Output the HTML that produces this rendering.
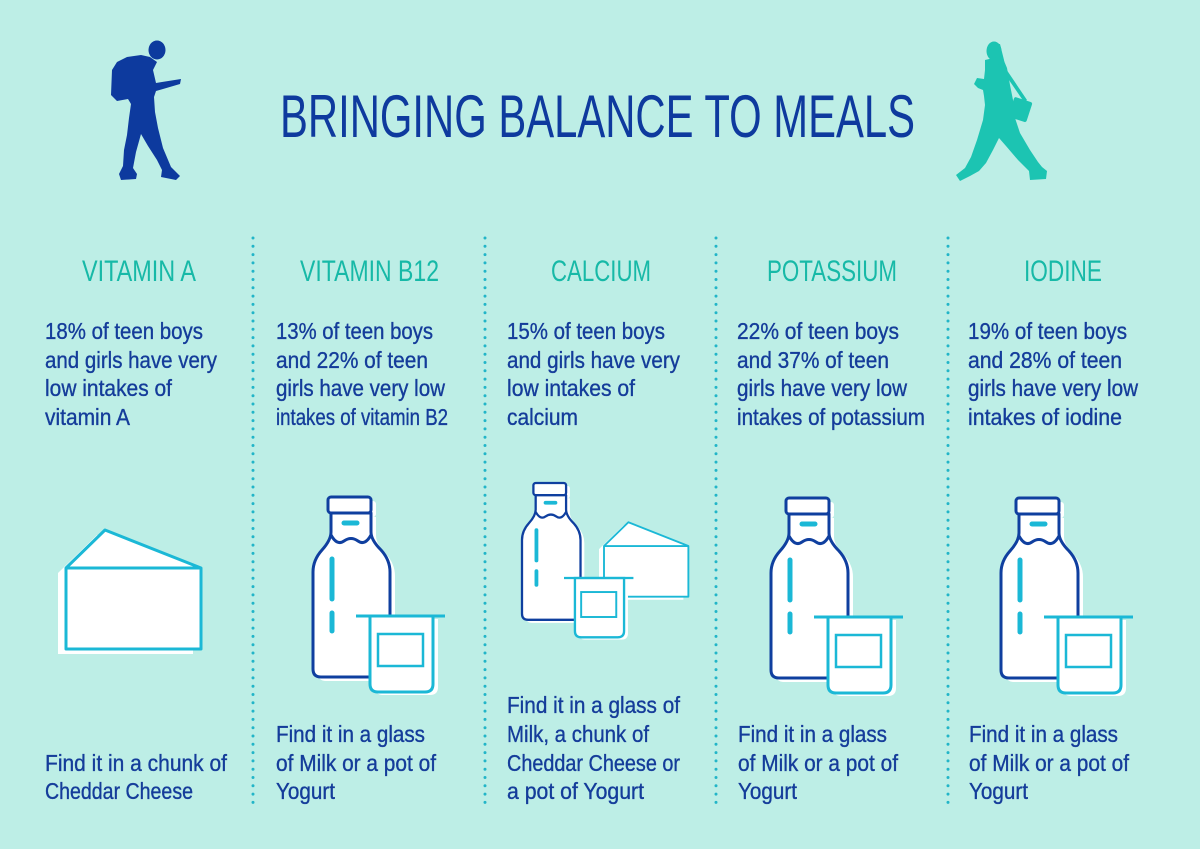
<!DOCTYPE html>
<html><head><meta charset="utf-8"><style>
html,body{margin:0;padding:0;background:#bdeee6;}
svg{display:block;}
text{font-family:"Liberation Sans Narrow","Liberation Sans",sans-serif;}
.t{fill:#0e3a9e;font-size:60px;}
.h{fill:#17b9a7;font-size:30px;}
.b{fill:#143c9a;font-size:23.5px;stroke:#143c9a;stroke-width:0.35;}
</style></head><body>
<svg width="1200" height="849" viewBox="0 0 1200 849" xmlns="http://www.w3.org/2000/svg">
<defs>
  <g id="bottle">
    <path d="M336,517 L336,536 Q336,544 327,554 Q318,564 318,576 L318,673 Q318,681 326,681 L387,681 Q395,681 395,673 L395,576 Q395,564 386,554 Q376,544 376,536 L376,517 Z" fill="#fff"/>
    <rect x="333" y="501" width="43" height="16" rx="3" fill="#fff"/>
    <path d="M331,513 L331,532 Q331,540 322,550 Q313,560 313,572 L313,669 Q313,677 321,677 L382,677 Q390,677 390,669 L390,572 Q390,560 381,550 Q371,540 371,532 L371,513 Z" fill="#fff" stroke="#0f3f9f" stroke-width="3" stroke-linejoin="round"/>
    <rect x="328" y="497" width="43" height="16" rx="3" fill="#fff" stroke="#0f3f9f" stroke-width="3"/>
    <path d="M331,535 Q337,546 344,541 Q351,536 358,541 Q365,546 371,535" fill="none" stroke="#0f3f9f" stroke-width="3"/>
    <line x1="344" y1="523" x2="357" y2="523" stroke="#1bb8d6" stroke-width="5" stroke-linecap="round"/>
    <line x1="332" y1="559" x2="332" y2="599" stroke="#1bb8d6" stroke-width="5" stroke-linecap="round"/>
    <line x1="332" y1="613" x2="332" y2="631" stroke="#1bb8d6" stroke-width="5" stroke-linecap="round"/>
  </g>
  <g id="yogurt">
    <path d="M375,619 L375,687 Q375,695 383,695 L430,695 Q438,695 438,687 L438,619 Z" fill="#fff"/>
    <path d="M370,616 L370,684 Q370,692 378,692 L425,692 Q433,692 433,684 L433,616 Z" fill="#fff" stroke="#1bb8d6" stroke-width="3"/>
    <line x1="356" y1="616" x2="445" y2="616" stroke="#1bb8d6" stroke-width="3"/>
    <rect x="378" y="634" width="45" height="32" fill="none" stroke="#1bb8d6" stroke-width="2.5"/>
  </g>
  <g id="cheese">
    <polygon points="58,573 97,535 193,573 193,654 58,654" fill="#fff"/>
    <polygon points="66,568 105,530 201,568 201,649 66,649" fill="#fff" stroke="#1bb8d6" stroke-width="3" stroke-linejoin="round"/>
    <line x1="66" y1="568" x2="201" y2="568" stroke="#1bb8d6" stroke-width="3"/>
  </g>
</defs>

<rect width="1200" height="849" fill="#bdeee6"/>

<!-- man silhouette -->
<g fill="#0d3a9e">
  <ellipse cx="157" cy="50" rx="8.5" ry="9.5"/>
  <path d="M150,57 L141,55 L127,57 L117,62 L112,70 L111,95 L117,101 L128,99 L131,104 L129,118 L127,135 L124,150 L123,166 L119,174 L121,180 L136,179 L137,174 L133,168 L136,152 L141,134 L148,146 L157,160 L162,170 L161,177 L176,180 L180,176 L171,167 L163,148 L158,128 L155,112 L154,97 L156,91 L163,89 L180,84 L181,79 L162,82 L156,83 L153,70 L157,62 Z"/>
</g>

<!-- woman silhouette -->
<g fill="#1cc4b2">
  <ellipse cx="994" cy="51" rx="7.5" ry="9.5"/>
  <path d="M988,46 L1000,44 L1004,60 L1007,80 L1003,86 L998,62 Z"/>
  <path d="M985,60 L1002,56 L1007,68 L1010,85 L1013,100 L1014,115 L1020,133 L1030,150 L1038,162 L1042,167 L1047,171 L1046,179 L1030,180 L1029,171 L1018,160 L1006,146 L999,138 L993,150 L986,163 L979,171 L970,176 L960,181 L956,175 L965,168 L971,157 L977,140 L983,120 L985,105 L984,96 L983,90 L978,88 L974,84 L977,78 L984,79 L985,70 Z"/>
  <path d="M1000,60 L1027,100 L1024,102 L998,64 Z"/>
  <rect x="1011" y="99" width="19" height="21" rx="2" transform="rotate(18 1020 109)"/>
</g>

<!-- title -->
<text class="t" x="280" y="137" textLength="635" lengthAdjust="spacingAndGlyphs">BRINGING BALANCE TO MEALS</text>

<!-- dotted separators -->
<g stroke="#22b5c8" stroke-width="3" stroke-linecap="round" stroke-dasharray="0 8.3">
  <line x1="253" y1="238" x2="253" y2="810"/>
  <line x1="485" y1="238" x2="485" y2="810"/>
  <line x1="716" y1="238" x2="716" y2="810"/>
  <line x1="948" y1="238" x2="948" y2="810"/>
</g>

<!-- headers -->
<text class="h" x="82" y="281" textLength="114" lengthAdjust="spacingAndGlyphs">VITAMIN A</text>
<text class="h" x="300" y="281" textLength="139" lengthAdjust="spacingAndGlyphs">VITAMIN B12</text>
<text class="h" x="551" y="281" textLength="100" lengthAdjust="spacingAndGlyphs">CALCIUM</text>
<text class="h" x="767" y="281" textLength="130" lengthAdjust="spacingAndGlyphs">POTASSIUM</text>
<text class="h" x="1024" y="281" textLength="78" lengthAdjust="spacingAndGlyphs">IODINE</text>

<!-- body text -->
<g>
<text class="b" x="45" y="339" textLength="158" lengthAdjust="spacingAndGlyphs">18% of teen boys</text>
<text class="b" x="45" y="368" textLength="172" lengthAdjust="spacingAndGlyphs">and girls have very</text>
<text class="b" x="45" y="396" textLength="127" lengthAdjust="spacingAndGlyphs">low intakes of</text>
<text class="b" x="45" y="425" textLength="85" lengthAdjust="spacingAndGlyphs">vitamin A</text>

<text class="b" x="276" y="339" textLength="157" lengthAdjust="spacingAndGlyphs">13% of teen boys</text>
<text class="b" x="276" y="368" textLength="152" lengthAdjust="spacingAndGlyphs">and 22% of teen</text>
<text class="b" x="276" y="396" textLength="169" lengthAdjust="spacingAndGlyphs">girls have very low</text>
<text class="b" x="276" y="425" textLength="172" lengthAdjust="spacingAndGlyphs">intakes of vitamin B2</text>

<text class="b" x="507" y="339" textLength="158" lengthAdjust="spacingAndGlyphs">15% of teen boys</text>
<text class="b" x="507" y="368" textLength="173" lengthAdjust="spacingAndGlyphs">and girls have very</text>
<text class="b" x="507" y="396" textLength="128" lengthAdjust="spacingAndGlyphs">low intakes of</text>
<text class="b" x="507" y="425" textLength="71" lengthAdjust="spacingAndGlyphs">calcium</text>

<text class="b" x="737" y="339" textLength="162" lengthAdjust="spacingAndGlyphs">22% of teen boys</text>
<text class="b" x="737" y="368" textLength="152" lengthAdjust="spacingAndGlyphs">and 37% of teen</text>
<text class="b" x="737" y="396" textLength="170" lengthAdjust="spacingAndGlyphs">girls have very low</text>
<text class="b" x="737" y="425" textLength="188" lengthAdjust="spacingAndGlyphs">intakes of potassium</text>

<text class="b" x="968" y="339" textLength="159" lengthAdjust="spacingAndGlyphs">19% of teen boys</text>
<text class="b" x="968" y="368" textLength="154" lengthAdjust="spacingAndGlyphs">and 28% of teen</text>
<text class="b" x="968" y="396" textLength="170" lengthAdjust="spacingAndGlyphs">girls have very low</text>
<text class="b" x="968" y="425" textLength="154" lengthAdjust="spacingAndGlyphs">intakes of iodine</text>

<!-- bottom text -->
<text class="b" x="45" y="771" textLength="182" lengthAdjust="spacingAndGlyphs">Find it in a chunk of</text>
<text class="b" x="45" y="799" textLength="148" lengthAdjust="spacingAndGlyphs">Cheddar Cheese</text>

<text class="b" x="276" y="742" textLength="149" lengthAdjust="spacingAndGlyphs">Find it in a glass</text>
<text class="b" x="276" y="771" textLength="160" lengthAdjust="spacingAndGlyphs">of Milk or a pot of</text>
<text class="b" x="276" y="799" textLength="59" lengthAdjust="spacingAndGlyphs">Yogurt</text>

<text class="b" x="507" y="713" textLength="173" lengthAdjust="spacingAndGlyphs">Find it in a glass of</text>
<text class="b" x="507" y="742" textLength="142" lengthAdjust="spacingAndGlyphs">Milk, a chunk of</text>
<text class="b" x="507" y="771" textLength="173" lengthAdjust="spacingAndGlyphs">Cheddar Cheese or</text>
<text class="b" x="507" y="799" textLength="137" lengthAdjust="spacingAndGlyphs">a pot of Yogurt</text>

<text class="b" x="738" y="742" textLength="149" lengthAdjust="spacingAndGlyphs">Find it in a glass</text>
<text class="b" x="738" y="771" textLength="160" lengthAdjust="spacingAndGlyphs">of Milk or a pot of</text>
<text class="b" x="738" y="799" textLength="59" lengthAdjust="spacingAndGlyphs">Yogurt</text>

<text class="b" x="969" y="742" textLength="149" lengthAdjust="spacingAndGlyphs">Find it in a glass</text>
<text class="b" x="969" y="771" textLength="160" lengthAdjust="spacingAndGlyphs">of Milk or a pot of</text>
<text class="b" x="969" y="799" textLength="59" lengthAdjust="spacingAndGlyphs">Yogurt</text>
</g>

<!-- icons -->
<use href="#cheese"/>

<use href="#bottle"/>
<use href="#yogurt"/>

<g transform="translate(604,546) scale(0.625) translate(-66,-568)"><use href="#cheese"/></g>
<g transform="translate(522,483) scale(0.76) translate(-313,-497)"><use href="#bottle"/></g>
<g transform="translate(564,578) scale(0.78) translate(-356,-616)"><use href="#yogurt"/></g>

<g transform="translate(458,1)"><use href="#bottle"/><use href="#yogurt"/></g>
<g transform="translate(688,1)"><use href="#bottle"/><use href="#yogurt"/></g>
</svg>
</body></html>
